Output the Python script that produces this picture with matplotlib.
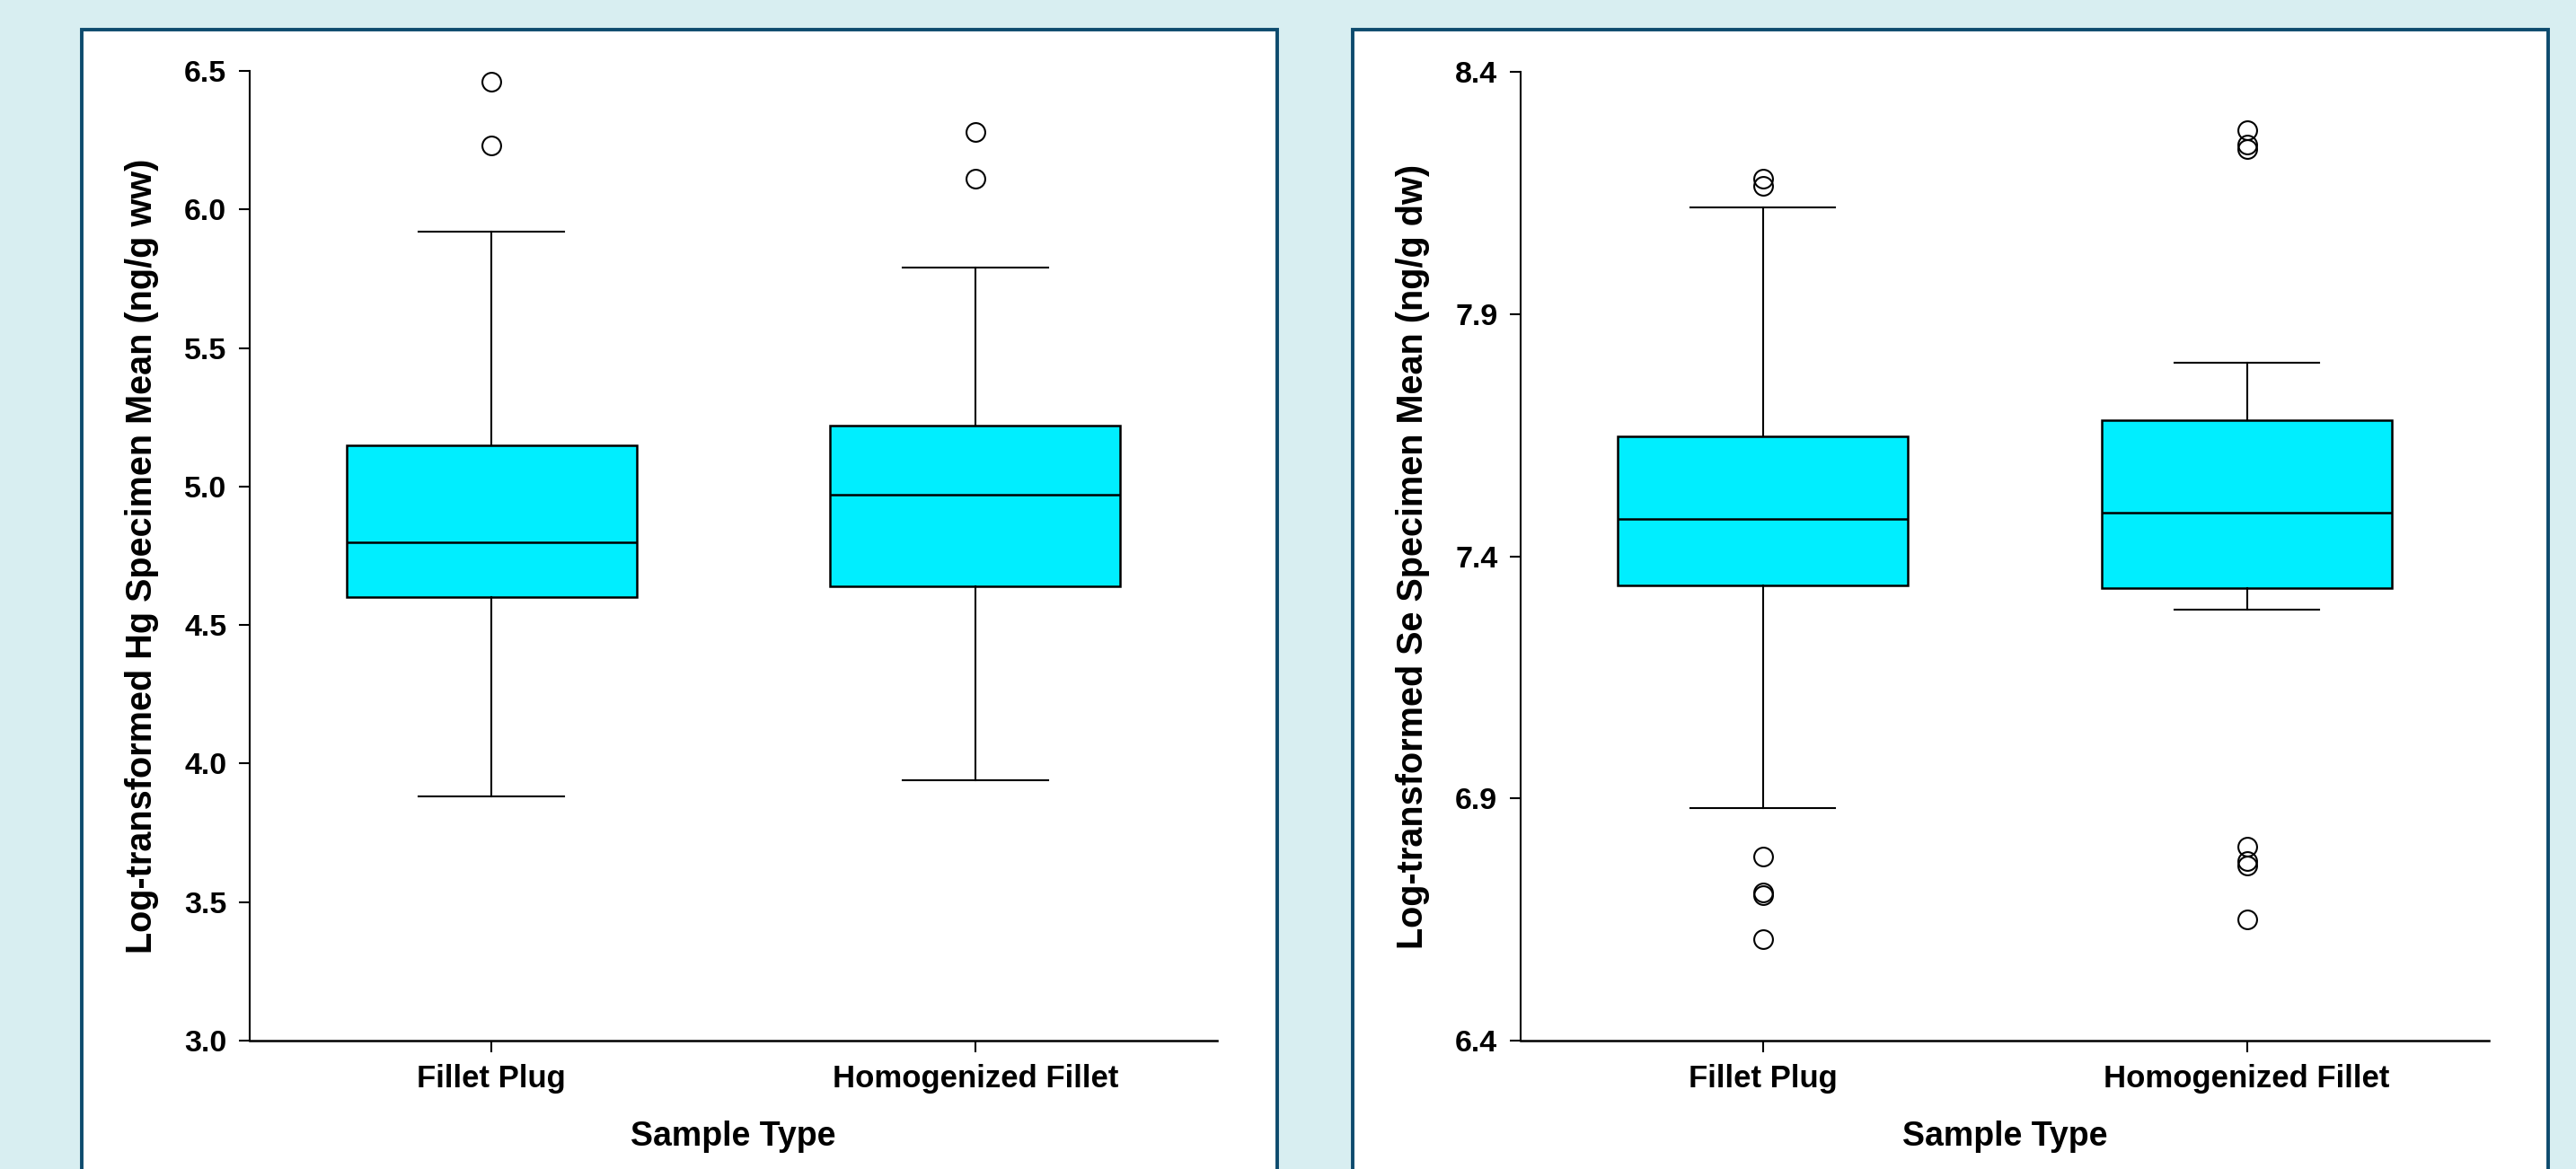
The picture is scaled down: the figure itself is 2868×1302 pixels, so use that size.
import matplotlib
matplotlib.use("Agg")
import matplotlib.pyplot as plt
from matplotlib.patches import Rectangle

plt.rcParams['font.family'] = ['Liberation Sans', 'DejaVu Sans']
plt.rcParams['font.weight'] = 'bold'

# Data (box stats per sample type)
categories = ["Fillet Plug", "Homogenized Fillet"]

hg_q1 = [4.60, 4.64]
hg_med = [4.80, 4.97]
hg_q3 = [5.15, 5.22]
hg_lo = [3.88, 3.94]
hg_hi = [5.92, 5.79]
hg_out = [[6.46, 6.23], [6.28, 6.11]]

se_q1 = [7.34, 7.335]
se_med = [7.477, 7.49]
se_q3 = [7.647, 7.68]
se_lo = [6.88, 7.29]
se_hi = [8.12, 7.80]
se_out = [[8.18, 8.165, 6.78, 6.70, 6.705, 6.61],
          [8.28, 8.25, 8.24, 6.80, 6.77, 6.762, 6.65]]

hg_ticks = [3.0, 3.5, 4.0, 4.5, 5.0, 5.5, 6.0, 6.5]
se_ticks = [6.4, 6.9, 7.4, 7.9, 8.4]

hg_label = "Log-transformed Hg Specimen Mean (ng/g ww)"
se_label = "Log-transformed Se Specimen Mean (ng/g dw)"
x_label = "Sample Type"

BG = "#d8eef1"
FRAME = "#0d4b6e"
BOX = "#00eeff"

fig = plt.figure(figsize=(28.68, 13.02), dpi=100, facecolor=BG)

# white panels with dark frame
for x0, x1 in [(91, 1422), (1506, 2837)]:
    fig.patches.append(Rectangle((x0 / 2868, -0.05), (x1 - x0) / 2868, 1.05 - 33 / 1302,
                                 transform=fig.transFigure, facecolor="white",
                                 edgecolor=FRAME, linewidth=2.8, zorder=-1))


def make_stats(q1, med, q3, lo, hi, out):
    stats = []
    for i in range(len(categories)):
        stats.append(dict(q1=q1[i], med=med[i], q3=q3[i], whislo=lo[i],
                          whishi=hi[i], fliers=out[i], label=categories[i]))
    return stats


def draw(ax, stats, ticks, ylabel):
    ax.bxp(stats, positions=[1, 2], widths=0.6, patch_artist=True,
           boxprops=dict(facecolor=BOX, edgecolor="black", linewidth=1.8),
           medianprops=dict(color="black", linewidth=1.8),
           whiskerprops=dict(color="black", linewidth=1.5),
           capprops=dict(color="black", linewidth=1.5),
           capwidths=0.3,
           flierprops=dict(marker="o", markersize=15, markerfacecolor="none",
                           markeredgecolor="black", markeredgewidth=1.5))
    ax.set_xlim(0.5, 2.5)
    ax.set_ylim(ticks[0], ticks[-1])
    ax.set_yticks(ticks)
    ax.set_yticklabels([f"{t:.1f}" for t in ticks])
    ax.set_xticks([1, 2])
    ax.set_xticklabels(categories)
    ax.spines["top"].set_visible(False)
    ax.spines["right"].set_visible(False)
    ax.spines["left"].set_linewidth(1.5)
    ax.spines["bottom"].set_linewidth(1.8)
    ax.tick_params(axis="y", length=8.5, width=1.5, pad=10, labelsize=24.5)
    ax.tick_params(axis="x", length=9, width=1.5, pad=10, labelsize=25)
    ax.set_ylabel(ylabel, fontsize=28.5, fontweight="bold", labelpad=20)
    ax.set_xlabel(x_label, fontsize=27, fontweight="bold", labelpad=21)
    ax.set_facecolor("none")


ax1 = fig.add_axes([278 / 2868, 1 - 1159 / 1302, (1355 - 278) / 2868, (1159 - 79) / 1302])
draw(ax1, make_stats(hg_q1, hg_med, hg_q3, hg_lo, hg_hi, hg_out), hg_ticks, hg_label)

ax2 = fig.add_axes([1693 / 2868, 1 - 1159 / 1302, (2771 - 1693) / 2868, (1159 - 80) / 1302])
draw(ax2, make_stats(se_q1, se_med, se_q3, se_lo, se_hi, se_out), se_ticks, se_label)

fig.savefig("out.png", dpi=100, facecolor=BG)
